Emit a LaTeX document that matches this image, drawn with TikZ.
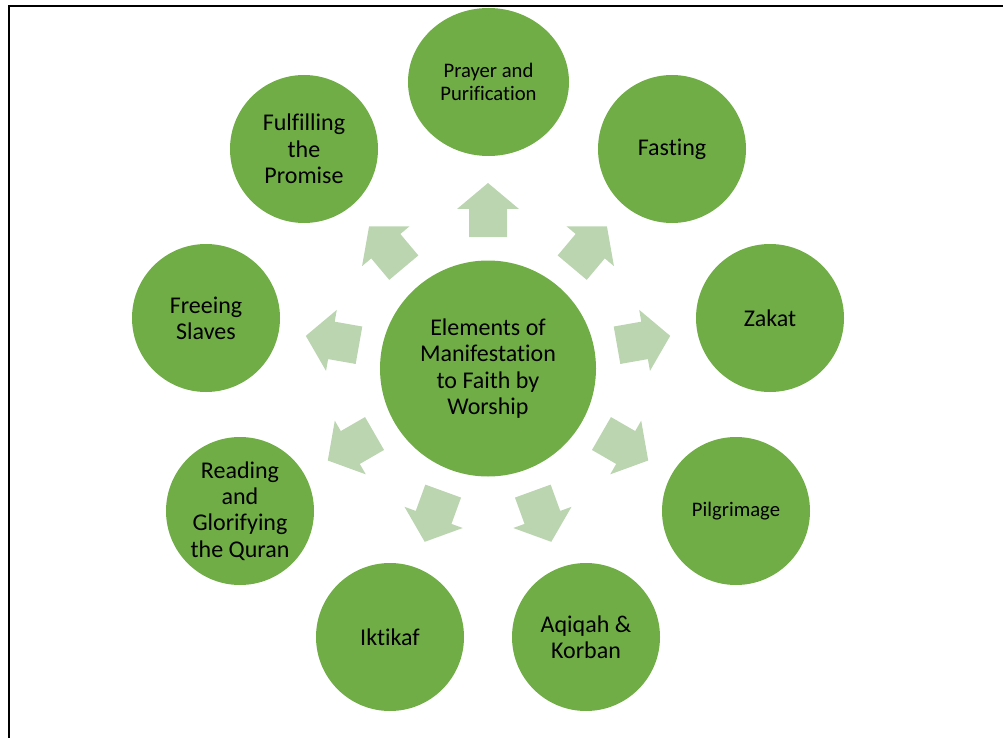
\documentclass[tikz,border=0pt]{standalone}
\usepackage{fontspec}
\setmainfont{Carlito}[Ligatures={NoCommon}]
\usetikzlibrary{shapes.geometric}
\definecolor{leafgreen}{RGB}{112,173,71}
\definecolor{palegreen}{RGB}{188,213,177}

\tikzset{
  bubble/.style={circle, fill=leafgreen, minimum size=111pt, inner sep=0pt, align=center, font=\fontsize{18}{19.7}\selectfont},
  smalltext/.style={font=\fontsize{15.5}{17.25}\selectfont},
  hub/.style={bubble, minimum size=162pt},
}

\begin{document}
\begin{tikzpicture}[x=0.75pt,y=0.75pt,yscale=-1,xscale=1]
\useasboundingbox (0,0) rectangle (1003,738);

%Frame
\draw [line width=1.5pt] (9,738) -- (9,6) -- (1003,6) ;

%Block arrows
\foreach \a in {90,50,...,-230} {
  \fill [palegreen, shift={(488,368)}, rotate=-\a] (131,-19) -- (159,-19) -- (159,-31) -- (185,0) -- (159,31) -- (159,19) -- (131,19) -- cycle ;
}

%Centre
\node [hub] (worship) at (488,368.5) {Elements of\\Manifestation\\to Faith by\\Worship};

%Outer circles
\node [bubble, ellipse, minimum width=120.75pt, minimum height=111pt, smalltext] (prayer) at (488.5,82) {Prayer and\\Purification};
\node [bubble] (fasting) at (672,149) {Fasting};
\node [bubble] (zakat) at (770,318) {Zakat};
\node [bubble, smalltext] (pilgrim) at (736,511) {Pilgrimage};
\node [bubble] (aqiqah) at (586,637) {Aqiqah \&\\Korban};
\node [bubble] (iktikaf) at (390,637) {Iktikaf};
\node [bubble] (quran) at (240,511) {Reading\\and\\Glorifying\\the Quran};
\node [bubble] (slaves) at (206,318) {Freeing\\Slaves};
\node [bubble] (promise) at (304,149) {Fulfilling\\the\\Promise};

\end{tikzpicture}
\end{document}
